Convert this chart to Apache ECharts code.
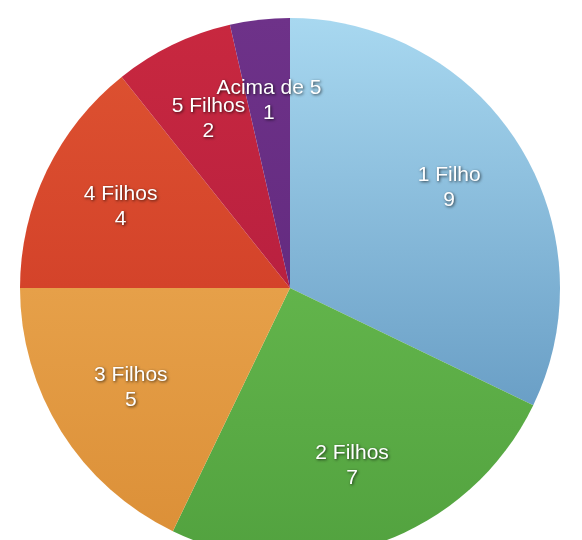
<!DOCTYPE html>
<html>
<head>
<meta charset="utf-8">
<script src="https://cdn.jsdelivr.net/npm/echarts@6/dist/echarts.min.js"></script>
<style>
html,body{margin:0;padding:0;background:#ffffff;}
#chart{width:582px;height:540px;}
</style>
</head>
<body>
<div id="chart"></div>
<script>
var categories = ['1 Filho', '2 Filhos', '3 Filhos', '4 Filhos', '5 Filhos', 'Acima de 5'];
var values = [9, 7, 5, 4, 2, 1];
var topColors = ['#a8d8f0', '#62b44b', '#e6a049', '#dc5030', '#c8283f', '#6e3289'];
var bottomColors = ['#6a9fc6', '#52a23f', '#dc9038', '#d4432a', '#b92040', '#642b80'];

var chart = echarts.init(document.getElementById('chart'), null, {renderer: 'canvas'});

var pieData = categories.map(function (c, i) {
  return {
    name: c,
    value: values[i],
    itemStyle: {
      color: new echarts.graphic.LinearGradient(0, 0, 0, 1, [
        {offset: 0, color: topColors[i]},
        {offset: 1, color: bottomColors[i]}
      ])
    }
  };
});
var labelData = categories.map(function (c, i) {
  return {name: c, value: values[i]};
});

var center = [290, 288];
var R = 270;

chart.setOption({
  animation: false,
  series: [
    {
      type: 'pie',
      center: center,
      radius: [0, R],
      startAngle: 90,
      clockwise: true,
      silent: true,
      label: {show: false},
      labelLine: {show: false},
      itemStyle: {borderWidth: 0},
      data: pieData
    },
    {
      type: 'pie',
      center: center,
      radius: [100, R],
      startAngle: 90,
      clockwise: true,
      silent: true,
      avoidLabelOverlap: false,
      minShowLabelAngle: 0,
      itemStyle: {color: 'rgba(0,0,0,0)', borderWidth: 0},
      labelLine: {show: false},
      labelLayout: {hideOverlap: false},
      label: {
        show: true,
        position: 'inside',
        overflow: 'none',
        formatter: '{b}\n{c}',
        color: '#ffffff',
        fontFamily: 'Liberation Sans, Arial, sans-serif',
        fontSize: 21,
        lineHeight: 25,
        textShadowColor: 'rgba(0,0,0,0.7)',
        textShadowBlur: 3,
        textShadowOffsetX: 1,
        textShadowOffsetY: 1
      },
      data: labelData
    }
  ]
});
</script>
</body>
</html>
